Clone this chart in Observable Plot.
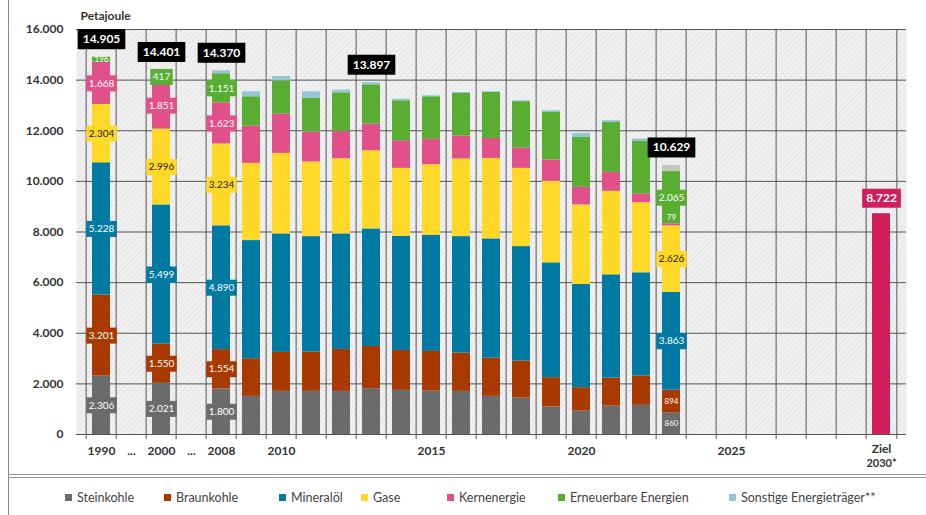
<!DOCTYPE html>
<html><head><meta charset="utf-8">
<script src="https://cdn.jsdelivr.net/npm/d3@7"></script>
<script src="https://cdn.jsdelivr.net/npm/@observablehq/plot@0.6"></script>
<style>
body{margin:0;background:#fff;font-family:Lato,"Open Sans",sans-serif;}
#wrap{position:relative;width:926px;height:515px;overflow:hidden;background:#fff;}
#chart{position:absolute;left:0;top:0;}
.vline{position:absolute;left:8px;top:0;width:1px;height:515px;background:#888;}
.hline{position:absolute;left:8px;right:0;height:1px;background:#999;}
#legend{position:absolute;top:488px;left:0;width:926px;height:20px;font-size:12.5px;color:#444;}
.item{position:absolute;top:0;display:flex;align-items:center;height:18px;white-space:nowrap;}
.sw{width:7px;height:7px;margin-right:5px;}
</style></head><body>
<div id="wrap">
  <div id="chart"></div>
  <div class="vline"></div>
  <div class="hline" style="top:474px"></div>
  <div class="hline" style="top:477px"></div>
  <div id="legend"></div>
</div>
<script>
// ---------- data ----------
const years = ["1990","2000","2008","2009","2010","2011","2012","2013","2014","2015","2016","2017","2018","2019","2020","2021","2022","2023"];
const slots = ["1990","gap1","2000","gap2","2008","2009","2010","2011","2012","2013","2014","2015","2016","2017","2018","2019","2020","2021","2022","2023","2024","2025","2026","2027","2028","2029","2030"];
const tickSlots  = ["1990","gap1","2000","gap2","2008","2010","2015","2020","2025"];
const tickLabels = ["1990","...","2000","...","2008","2010","2015","2020","2025"];
const zielTickLines = ["Ziel","2030*"];
const yTicks = [0,2000,4000,6000,8000,10000,12000,14000,16000];

const seriesNames = ["Steinkohle","Braunkohle","Mineralöl","Gase","Kernenergie","Erneuerbare Energien","Sonstige Energieträger**"];
const steinkohle  = [2306,2021,1800,1507,1704,1704,1704,1811,1744,1716,1704,1507,1440,1085, 927,1124,1152, 860];
const braunkohle  = [3201,1550,1554,1487,1539,1550,1657,1668,1577,1566,1511,1511,1460,1160, 923,1105,1156, 894];
const mineraloel  = [5228,5499,4890,4667,4682,4564,4564,4643,4510,4588,4603,4710,4524,4536,4075,4079,4079,3863];
const gase        = [2304,2996,3234,3049,3180,2947,2970,3089,2682,2789,3065,3179,3089,3219,3144,3298,2773,2626];
const kernenergie = [1668,1851,1623,1475,1554,1184,1077,1053,1093, 998, 904, 789, 804, 844, 694, 749, 343,  79];
const erneuerbare = [ 196, 417,1151,1156,1313,1341,1527,1551,1577,1684,1685,1815,1833,1878,1973,1972,2075,2065];
const sonstige    = [   2,  67, 118, 197, 170, 248, 106,  82,  60,  40,  40,  30,  30,  67, 158,  70,  94, 242];

const totalYears  = ["1990","2000","2008","2013","2023"];
const totalValues = [14905,14401,14370,13897,10629];
const zielSlot = "2030";
const zielValue = 8722;
const labelYears = ["1990","2000","2008","2023"];

const seriesColors = ["#6b6b6b","#a83a00","#0079a3","#ffd828","#e2508a","#59ad33","#94c4d5"];

// ---------- helpers ----------
const seriesValues = [steinkohle,braunkohle,mineraloel,gase,kernenergie,erneuerbare,sonstige];
const fmt = d3.formatLocale({decimal:",",thousands:".",grouping:[3],currency:["","€"]}).format(",d");
const tickMap = new Map(tickSlots.map((s,i)=>[s,tickLabels[i]]));

const rows = [];
seriesNames.forEach((s,k)=>years.forEach((y,i)=>rows.push({slot:y,series:s,k,value:seriesValues[k][i]})));

const segLabels = [];
labelYears.forEach(y=>{
  const i = years.indexOf(y);
  let base = 0;
  for (let k=0;k<6;k++){
    const v = seriesValues[k][i];
    segLabels.push({slot:y,k,value:v,mid:base+v/2,top:base+v,label:fmt(v)});
    base += v;
  }
});
const isSmall = d => (d.slot==="1990"&&d.k===5) || (d.slot==="2023"&&(d.k===0||d.k===1));
const isAbove = d => d.slot==="2023"&&d.k===4;
const boxedLabels = segLabels.filter(d=>!isSmall(d)&&!isAbove(d));
const smallLabels = segLabels.filter(isSmall);
const aboveLabels = segLabels.filter(isAbove);
const totals = totalYears.map((y,i)=>({slot:y,value:totalValues[i],label:fmt(totalValues[i])}));
const ziel = [{slot:zielSlot,value:zielValue,label:fmt(zielValue)}];

const mctx = document.createElement("canvas").getContext("2d");
function boxRender(data, {h, padX, fontSize, fontWeight, boxFill}) {
  return (index, scales, values, dims, context, next) => {
    const g = next(index, scales, values, dims, context);
    const ns = "http://www.w3.org/2000/svg";
    const first = g.firstChild;
    for (const i of index) {
      const d = data[i];
      mctx.font = `${fontWeight} ${fontSize}px Lato`;
      const w = mctx.measureText(d.label).width + 2*padX;
      const r = document.createElementNS(ns,"rect");
      r.setAttribute("x", values.x[i] - w/2);
      r.setAttribute("y", values.y[i] - h/2);
      r.setAttribute("width", w);
      r.setAttribute("height", h);
      r.setAttribute("fill", typeof boxFill === "function" ? boxFill(d) : boxFill);
      r.setAttribute("stroke", "none");
      g.insertBefore(r, first);
    }
    return g;
  };
}

// ---------- layout ----------
const W = 926, H = 481, ML = 76, MR = 20, MT = 29, MB = 47;
const step = (W - ML - MR) / slots.length;

const chart = Plot.plot({
  width: W, height: H,
  marginLeft: ML, marginRight: MR, marginTop: MT, marginBottom: MB,
  style: {fontFamily: "Lato, 'Open Sans', sans-serif", fontSize: "12px", fontWeight: "bold", color: "#333", background: "#fff", overflow: "visible"},
  x: {domain: slots, paddingInner: 0.4, paddingOuter: 0.2, label: null, tickSize: 0, tickPadding: 12, ticks: tickSlots, tickFormat: d => tickMap.get(d) ?? ""},
  y: {domain: [0,16000], ticks: yTicks, tickFormat: fmt, tickSize: 0, tickPadding: 13, label: null},
  marks: [
    Plot.frame({fill: "url(#hatch)"}),
    Plot.ruleY(yTicks, {stroke: "#555", strokeWidth: 1}),
    Plot.ruleX(slots, {x: d => d, y1: 16000, y2: 0, dx: -step/2, insetBottom: -5, stroke: "#555", strokeWidth: 1}),
    Plot.ruleX([zielSlot], {x: d => d, y1: 16000, y2: 0, dx: step/2, insetBottom: -5, stroke: "#555", strokeWidth: 1}),
    Plot.barY(rows, Plot.stackY({x: "slot", y: "value", z: "series",
      fill: d => (d.slot === "2023" && d.k === 6) ? "#c4c4c4" : seriesColors[d.k]})),
    Plot.barY(ziel, {x: "slot", y: "value", fill: "#d11c5d"}),
    Plot.text(boxedLabels, {x: "slot", y: "mid", text: "label", fontSize: 10, fontWeight: "normal",
      fill: d => d.k === 3 ? "#1a1a1a" : "#ffffff",
      render: boxRender(boxedLabels, {h: 16, padX: 2.5, fontSize: 10, fontWeight: "normal", boxFill: d => seriesColors[d.k]})}),
    Plot.text(smallLabels, {x: "slot", y: "mid", text: "label", fontSize: 8, fontWeight: "normal", fill: "#ffffff"}),
    Plot.text(aboveLabels, {x: "slot", y: "top", text: "label", dy: -6, fontSize: 8, fontWeight: "normal", fill: "#ffffff"}),
    Plot.text(totals, {x: "slot", y: "value", text: "label", dy: -18, fontSize: 12, fontWeight: "bold", fill: "#ffffff",
      render: boxRender(totals, {h: 20, padX: 5, fontSize: 12, fontWeight: "bold", boxFill: "#000"})}),
    Plot.text(ziel, {x: "slot", y: "value", text: "label", dy: -15.5, fontSize: 12, fontWeight: "bold", fill: "#ffffff",
      render: boxRender(ziel, {h: 19, padX: 4, fontSize: 12, fontWeight: "bold", boxFill: "#d11c5d"})}),
    // two-line "Ziel / 2030*" tick label
    Plot.text([zielSlot], {x: d => d, frameAnchor: "bottom", text: () => zielTickLines[0], dy: 18, fontSize: 12, fontWeight: "bold", fill: "#333"}),
    Plot.text([zielSlot], {x: d => d, frameAnchor: "bottom", text: () => zielTickLines[1], dy: 32, fontSize: 11, fontWeight: "bold", fill: "#333"}),
    Plot.text(["Petajoule"], {frameAnchor: "top-left", dx: 4, dy: -13.5, lineAnchor: "middle", textAnchor: "start", fontSize: 12, fontWeight: "bold", fill: "#333"})
  ]
});

// hatch pattern for plot background
const ns = "http://www.w3.org/2000/svg";
const defs = document.createElementNS(ns, "defs");
defs.innerHTML = '<pattern id="hatch" width="4" height="4" patternUnits="userSpaceOnUse" patternTransform="rotate(45)">' +
  '<rect width="4" height="4" fill="#f0f0f0"></rect><line x1="0" y1="0" x2="0" y2="4" stroke="#e1e1e1" stroke-width="1.6"></line></pattern>';
chart.insertBefore(defs, chart.firstChild);
document.getElementById("chart").appendChild(chart);

// legend
const legendX = [65,164,279,361,447,558,729];
const legend = document.getElementById("legend");
seriesNames.forEach((s,k)=>{
  const it = document.createElement("div");
  it.className = "item";
  it.style.left = legendX[k] + "px";
  it.innerHTML = `<span class="sw" style="background:${seriesColors[k]}"></span><span>${s}</span>`;
  legend.appendChild(it);
});
</script>
</body></html>
